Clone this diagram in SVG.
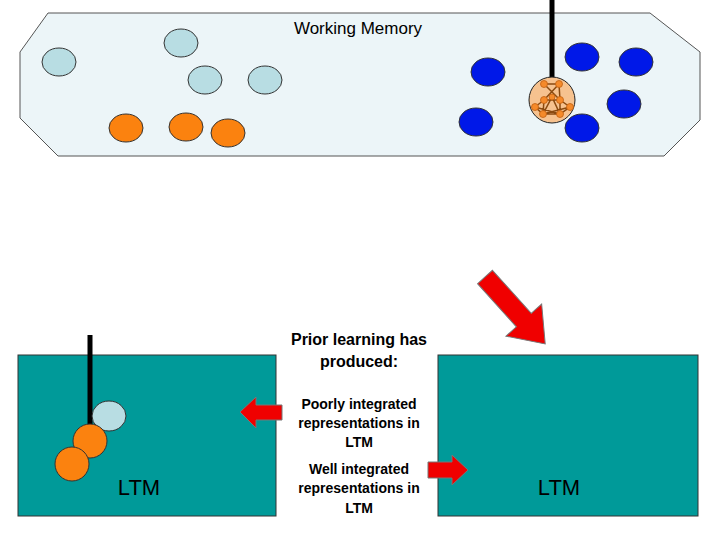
<svg xmlns="http://www.w3.org/2000/svg" width="720" height="540" viewBox="0 0 720 540">
<style>
.lb{fill:#b8dde3;stroke:#333;stroke-width:1}
.or{fill:#fb820f;stroke:#333;stroke-width:1}
.bl{fill:#0018e8;stroke:#333;stroke-width:1}
.ltm{fill:#009a99;stroke:#333;stroke-width:1}
.ar{fill:#f00000;stroke:#777;stroke-width:1}
.t{font-family:"Liberation Sans",Arial,sans-serif;text-anchor:middle;fill:#000}
.n{fill:#f58a2a;stroke:#c06010;stroke-width:0.8}
.e{stroke:#8a4a10;stroke-width:1.5;fill:none}
</style>
<rect width="720" height="540" fill="#fff"/>
<g id="working-memory">
<polygon points="48,13 650,13 700,52 700,120 664,156 58,156 20,118 20,52" fill="#ecf5f8" stroke="#555" stroke-width="1"/>
<text class="t" x="358" y="34" font-size="17">Working Memory</text>
<ellipse class="lb" cx="59" cy="62" rx="17" ry="14"/>
<ellipse class="lb" cx="181" cy="43" rx="17" ry="14"/>
<ellipse class="lb" cx="205" cy="80" rx="17" ry="14"/>
<ellipse class="lb" cx="265" cy="80" rx="17" ry="14"/>
<ellipse class="or" cx="126" cy="128" rx="17" ry="14"/>
<ellipse class="or" cx="186" cy="127" rx="17" ry="14"/>
<ellipse class="or" cx="228" cy="133" rx="17" ry="14"/>
<ellipse class="bl" cx="488" cy="72" rx="17" ry="14"/>
<ellipse class="bl" cx="582" cy="57" rx="17" ry="14"/>
<ellipse class="bl" cx="636" cy="62" rx="17" ry="14"/>
<ellipse class="bl" cx="624" cy="104" rx="17" ry="14"/>
<ellipse class="bl" cx="476" cy="122" rx="17" ry="14"/>
<ellipse class="bl" cx="582" cy="128" rx="17" ry="14"/>
</g>
<g id="chunk">
<line x1="552" y1="0" x2="552" y2="78" stroke="#000" stroke-width="5"/>
<circle cx="552" cy="100" r="23" fill="#f6c28f" stroke="#222" stroke-width="1"/>
<path class="e" d="M544,84 L559,84 L544,100 L560,100 L559,84 M544,84 L560,100 M544,100 L535,107 L543,114 L552,97 L560,114 L570,107 L560,100 M544,100 L543,114 L560,114 L560,100 M535,107 L560,114 M570,107 L543,114"/>
<circle class="n" cx="544" cy="84" r="3.5"/><circle class="n" cx="559" cy="84" r="3.5"/>
<circle class="n" cx="544" cy="100" r="3.5"/><circle class="n" cx="560" cy="100" r="3.5"/>
<circle class="n" cx="535" cy="107" r="3.5"/><circle class="n" cx="570" cy="107" r="3.5"/>
<circle class="n" cx="543" cy="114" r="3.5"/><circle class="n" cx="560" cy="114" r="3.5"/>
<circle class="n" cx="552" cy="97" r="3"/>
</g>
<g id="ltm-left">
<rect class="ltm" x="18" y="355" width="258" height="161"/>
<line x1="90" y1="335" x2="90" y2="428" stroke="#000" stroke-width="5"/>
<ellipse class="lb" cx="109" cy="416" rx="17" ry="15"/>
<circle class="or" cx="90" cy="441" r="17"/>
<circle class="or" cx="72" cy="464" r="17"/>
<text class="t" x="139" y="495" font-size="22">LTM</text>
</g>
<g id="ltm-right">
<rect class="ltm" x="438" y="355" width="260" height="161"/>
<text class="t" x="559" y="495" font-size="22">LTM</text>
</g>
<g id="labels">
<text class="t" x="359" y="345" font-size="16" font-weight="bold" fill="#111">Prior learning has</text>
<text class="t" x="359" y="367" font-size="16" font-weight="bold">produced:</text>
<text class="t" x="359" y="409" font-size="14" font-weight="bold">Poorly integrated</text>
<text class="t" x="359" y="428" font-size="14" font-weight="bold">representations in</text>
<text class="t" x="359" y="447" font-size="14" font-weight="bold">LTM</text>
<text class="t" x="359" y="474" font-size="14" font-weight="bold">Well integrated</text>
<text class="t" x="359" y="493" font-size="14" font-weight="bold">representations in</text>
<text class="t" x="359" y="513" font-size="14" font-weight="bold">LTM</text>
</g>
<g id="connectors">
<polygon class="ar" points="282,405 256,405 256,397 240,412 256,428 256,420 282,420"/>
<polygon class="ar" points="428,462 452,462 452,455 468,470 452,485 452,478 428,478"/>
<polygon class="ar" transform="translate(485,277) rotate(48)" points="0,-10 58,-10 58,-24 90,0 58,24 58,10 0,10"/>
</g>
</svg>
